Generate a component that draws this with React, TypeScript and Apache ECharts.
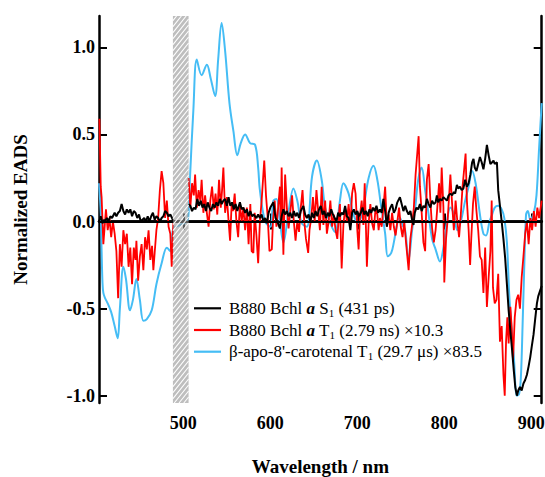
import React, { useEffect, useRef } from 'react';
import * as echarts from 'echarts';

const FONT = "'Liberation Serif', 'Times New Roman', Times, serif";

// Wavelength (nm) / normalized EADS pairs
const s1Points: [number, number | null][] = [
  [403,0.0],[405,0.03],[407,-0.01],[409,0.01],[410,0.0],[412,0.02],[414,0.0],[416,0.03],[418,0.02],[421,0.05],[423,0.03],[425,0.05],[427,0.06],[429,0.1],[431,0.06],[433,0.04],[435,0.07],[437,0.05],[439,0.07],[441,0.03],[443,0.06],[445,0.05],[447,0.02],[449,0.04],[451,0.0],[453,0.01],[455,0.02],[457,0.0],[459,0.03],[461,0.0],[463,0.03],[465,0.05],[467,0.01],[469,0.03],[471,0.02],[473,0.0],[475,0.02],[477,0.03],[479,0.06],[481,0.05],[483,0.03],[485,0.04],[487,0.02],[488.5,0.0],[497,null],
  [506,0.1],[508,0.09],[510,0.06],[512,0.08],[514,0.07],[516,0.13],[518,0.09],[520,0.12],[522,0.08],[524,0.1],[526,0.06],[528,0.11],[530,0.08],[532,0.06],[534,0.1],[536,0.08],[538,0.11],[540,0.09],[542,0.13],[544,0.1],[546,0.12],[548,0.13],[550,0.09],[552,0.14],[554,0.09],[556,0.11],[558,0.07],[560,0.1],[562,0.06],[565,0.11],[567,0.07],[569,0.08],[571,0.05],[573,0.07],[575,0.03],[577,0.06],[579,0.03],[581,0.04],[584,0.02],[586,0.04],[588,0.02],[590,0.04],[592,0.0],[594,0.02],[596,-0.01],[598,0.05],[600,0.08],[603.5,0.11],[606,0.02],[608,0.0],[611,-0.04],[613,0.03],[615,0.07],[617,0.04],[619,0.06],[621,0.03],[623,0.05],[625,0.02],[627,0.06],[629,0.03],[631,0.05],[633,0.02],[635,0.06],[638,0.09],[640,0.04],[642,0.02],[644,0.04],[646,0.0],[648,0.05],[650,0.02],[652,0.06],[654,0.03],[656,0.07],[658,0.09],[660,0.04],[662,0.06],[664,0.02],[666,0.05],[668,0.03],[670,0.07],[672,0.04],[674,0.02],[676,0.0],[678,0.05],[680,0.03],[682,0.05],[684,0.04],[686,0.09],[688,0.03],[690,0.02],[692,-0.05],[694,0.05],[696,0.07],[698,0.04],[700,0.06],[702,0.03],[704,0.05],[706,0.08],[708,0.04],[710,0.06],[712,0.03],[714,0.07],[716,0.05],[718,0.08],[720,0.06],[722,0.09],[724,0.05],[726,0.07],[728,0.05],[730,0.13],[732,0.06],[734,-0.03],[736,0.05],[738,0.08],[740,0.1],[742,0.05],[744,0.07],[746,0.11],[749,0.14],[751,0.1],[753,0.06],[755,0.09],[757,0.06],[759,0.04],[761,0.06],[763,0.01],[764.6,-0.02],[766,0.05],[768,0.08],[770,0.07],[772,0.1],[774,0.06],[776,0.09],[778,0.08],[780,0.13],[782,0.1],[784,0.08],[786,0.12],[788,0.1],[790,0.11],[791.5,0.15],[793,0.11],[795,0.13],[797,0.12],[799,0.14],[801,0.13],[803,0.12],[805,0.15],[807,0.16],[809,0.15],[811,0.17],[812.5,0.16],[814.5,0.21],[816,0.19],[818,0.2],[820,0.18],[822,0.19],[824,0.24],[826,0.2],[828,0.22],[830,0.27],[832,0.34],[833.6,0.36],[835,0.31],[837,0.29],[839,0.33],[841,0.37],[843,0.34],[845,0.3],[847,0.36],[849,0.44],[851,0.38],[853,0.33],[855,0.34],[856.6,0.35],[858,0.33],[860.5,0.34],[862,0.18],[864,0.09],[866,0.0],[868,-0.1],[870,-0.21],[872,-0.36],[874,-0.51],[876,-0.63],[878,-0.74],[880,-0.86],[881.6,-0.95],[883.5,-1.0],[885,-0.97],[887,-0.95],[889,-0.97],[891,-0.93],[893,-0.91],[895,-0.88],[897,-0.83],[898.8,-0.78],[900.5,-0.72],[902.6,-0.65],[904.5,-0.56],[906.5,-0.47],[908,-0.43],[910,-0.4],[912,-0.37]
];

const t1Points: [number, number | null][] = [
  [403.5,0.59],[405,0.2],[406,0.14],[408,-0.13],[411,0.07],[413,-0.05],[415,0.02],[417,-0.09],[419,0.0],[421,-0.07],[423,-0.17],[425,-0.44],[427,-0.13],[429,-0.26],[431,-0.05],[433,-0.13],[435,-0.07],[437,-0.26],[439,-0.15],[441,-0.36],[443,-0.15],[445,-0.22],[446,-0.11],[448,-0.34],[450,-0.2],[452,-0.13],[454,-0.28],[456,-0.09],[458,-0.16],[460,-0.05],[462,-0.22],[464,-0.14],[465.5,-0.28],[467,-0.18],[469,-0.05],[471,0.02],[473,0.18],[475,0.29],[477,0.22],[479,0.02],[481,0.12],[483,-0.03],[485,-0.07],[486.6,-0.26],[488.5,0.0],[497,null],
  [506,0.25],[508,0.08],[510,0.22],[512,0.15],[513.5,0.27],[515.5,0.08],[517.5,0.18],[519.5,0.12],[521,0.24],[523,0.05],[525,0.15],[527,0.05],[529,-0.03],[531,0.12],[533,0.2],[535,0.07],[537,0.16],[539,0.04],[541,0.24],[543,0.08],[544.5,0.18],[546,0.31],[548,0.05],[550,0.14],[552,0.0],[553.7,-0.11],[555.5,0.1],[557,0.06],[559,0.16],[561,0.0],[563,-0.09],[565,0.1],[567,0.0],[569,0.08],[571,-0.05],[573,0.08],[575,-0.13],[577,0.1],[578.5,-0.17],[580.5,-0.18],[582,0.05],[584,-0.08],[586,-0.24],[588,0.0],[590,0.12],[593,0.35],[595,0.15],[597,0.02],[599,-0.17],[601.7,-0.16],[603,0.0],[605,0.12],[607,-0.03],[609,0.08],[611,0.2],[612,0.0],[613,0.31],[615,-0.19],[617,0.27],[619,0.08],[621,-0.04],[623,0.06],[625,0.15],[627,0.0],[629,-0.11],[631,0.0],[633,-0.06],[635,0.08],[637,0.18],[639,0.0],[641,-0.1],[643.5,-0.18],[645,-0.05],[647,0.02],[649,0.14],[651,0.0],[653,0.18],[655,0.06],[657,-0.05],[659,0.2],[661,-0.02],[663,0.12],[665,-0.07],[667,0.0],[669,0.12],[671,-0.03],[673,0.04],[675,-0.05],[677,-0.1],[679,0.05],[680,0.1],[682,-0.27],[684,-0.02],[686,0.08],[688,0.0],[690,0.1],[692,-0.02],[694,0.16],[696,0.22],[698,0.16],[700,-0.05],[701.5,-0.16],[703,0.03],[705,0.12],[707,-0.02],[708.5,0.22],[710,-0.05],[711,-0.26],[713,-0.01],[715,0.1],[717,-0.01],[719,-0.05],[721,0.08],[723,0.04],[724.5,-0.05],[726,0.02],[728,-0.03],[730,0.08],[732,0.2],[734,-0.03],[736,0.04],[738,-0.05],[740,0.05],[742,-0.03],[744,-0.08],[746,0.0],[748,0.08],[750,-0.03],[752,-0.09],[754,0.0],[756,-0.12],[759,-0.28],[761,-0.1],[763,-0.02],[765,0.08],[767,0.27],[770.5,0.49],[772,0.2],[774,0.05],[776,-0.12],[778,-0.17],[780,0.24],[782,0.33],[784,0.12],[786,-0.04],[788,-0.12],[790,-0.05],[792,0.08],[794,0.22],[795.5,0.05],[797,0.31],[799,0.08],[800,-0.35],[802,-0.1],[804,0.02],[807,0.27],[809,0.1],[811,-0.05],[813,0.12],[815,0.0],[817,-0.09],[819,0.04],[821,0.2],[824.5,0.39],[826,0.12],[828,-0.05],[829.7,-0.25],[831,-0.1],[833,0.1],[835,0.2],[837,0.06],[839,-0.05],[841,-0.2],[843,-0.22],[845,-0.41],[847,-0.15],[849,-0.49],[851,-0.32],[853,-0.17],[854.5,0.12],[856,-0.38],[858,-0.47],[860,-0.45],[862,-0.3],[864,-0.69],[866,-0.6],[868,-0.88],[869.5,-1.0],[871,-0.69],[872.5,-0.55],[874,-0.7],[876,-0.49],[877.5,-0.61],[879,-0.8],[881,-0.55],[883,-0.45],[885,-0.42],[887,-0.5],[889,-0.32],[891,-0.2],[893,-0.07],[895,0.0],[897,-0.13],[899,0.02],[901,-0.05],[903,0.06],[905,-0.03],[907,0.08],[909,0.02],[912,0.12]
];

const carPoints: [number, number][] = [
  [403,0.22],[405,0.05],[406,-0.17],[407,-0.35],[408,-0.41],[410,-0.44],[413,-0.47],[417,-0.52],[421,-0.6],[424.5,-0.67],[427,-0.5],[431,-0.26],[434,-0.33],[438.7,-0.51],[442,-0.45],[446,-0.33],[450,-0.45],[454,-0.57],[458,-0.56],[463.6,-0.51],[469,-0.36],[475,-0.24],[481,-0.15],[485,-0.17],[488.5,-0.04],[496,-0.02],[504,0.0],[506,0.05],[507.7,0.26],[511.5,0.64],[515.4,0.93],[521,0.84],[527,0.9],[531.5,0.82],[536.5,0.72],[540,0.93],[544,1.14],[548,0.98],[553,0.68],[557.5,0.52],[562,0.38],[566,0.45],[571,0.5],[576.7,0.45],[582.5,0.44],[586,0.31],[588,0.18],[594,0.0],[600,-0.03],[603.5,0.12],[607,0.13],[611,0.0],[615,-0.12],[621,0.06],[626.5,0.19],[631,0.12],[636,-0.01],[642,-0.03],[648,0.26],[653.5,0.35],[659,0.24],[663,0.08],[669,-0.01],[674.5,-0.06],[680,0.12],[684,0.22],[690,0.16],[695.6,0.04],[701,-0.01],[707,0.08],[713,0.25],[718.6,0.32],[723,0.24],[727,0.1],[732,-0.07],[735,-0.2],[739,-0.18],[742,-0.12],[746,-0.01],[749,0.02],[752,-0.02],[755,-0.05],[759,-0.22],[763,-0.05],[766.6,0.08],[770,0.24],[774,0.31],[778,0.18],[782,0.04],[786,-0.1],[790,-0.16],[795,-0.23],[799,-0.15],[803,0.0],[807,0.08],[811,0.04],[815,-0.05],[819,0.0],[824,0.12],[828,0.2],[832,0.29],[836,0.22],[841,0.04],[845,-0.07],[848,-0.08],[852,0.0],[855,0.04],[858,0.08],[862,0.09],[866,0.07],[869,0.02],[872,-0.12],[875,-0.45],[880,-0.78],[883.5,-1.0],[886,-0.99],[888,-0.9],[890,-0.6],[892,-0.25],[894,0.04],[896,0.06],[899,0.01],[903,0.05],[906,0.15],[909,0.42],[912,0.68]
];

const xTicks = [500, 600, 700, 800, 900];
const yTicks = [-1, -0.5, 0, 0.5, 1];
const xRange = [403, 912];
const yRange = [-1.042, 1.18];
const bandRange = [488, 506];

const seriesNames = ['S1', 'T1', 'CAR'];
const seriesColors: Record<string, string> = { S1: '#000000', T1: '#ff0000', CAR: '#45bdf5' };
const legendLabels: Record<string, string> = {
  S1: 'B880 Bchl {i|a} S{s|1} (431 ps)',
  T1: 'B880 Bchl {i|a} T{s|1} (2.79 ns) ×10.3',
  CAR: "β-apo-8'-carotenal T{s|1} (29.7 μs) ×83.5",
};

const toData = (pts: [number, number | null][]) =>
  pts.map(([x, y]) => [x, y === null ? '-' : y]);

export default function App() {
  const ref = useRef<HTMLDivElement>(null);
  useEffect(() => {
    const chart = echarts.init(ref.current as HTMLDivElement, null, { renderer: 'svg' });
    const axisLine = { show: true, lineStyle: { color: '#000', width: 2.5 } };
    const tickX = { show: true, inside: true, length: 8, lineStyle: { color: '#000', width: 2 }, customValues: xTicks };
    const tickY = { show: true, inside: true, length: 8, lineStyle: { color: '#000', width: 2 }, customValues: yTicks };
    const labelStyle = { fontFamily: FONT, fontWeight: 'bold', fontSize: 18, color: '#000' };
    const legendText = {
      fontFamily: FONT,
      fontSize: 17,
      color: '#000',
      lineHeight: 20,
      padding: [0, 0, 0, 3],
      rich: {
        i: { fontFamily: FONT, fontSize: 17, fontStyle: 'italic', fontWeight: 'bold', color: '#000', lineHeight: 20 },
        s: { fontFamily: FONT, fontSize: 11, color: '#000', lineHeight: 12, verticalAlign: 'bottom' },
      },
    };
    const legendRowsCenter = [308.3, 330, 351.7];
    const legends = seriesNames.map((n, i) => ({
      data: [{ name: n, icon: 'rect', itemStyle: { color: seriesColors[n] } }],
      orient: 'vertical',
      left: 194,
      top: legendRowsCenter[i] - 10,
      padding: 0,
      itemWidth: 27,
      itemHeight: 2.2,
      selectedMode: false,
      formatter: (name: string) => legendLabels[name],
      textStyle: legendText,
    }));

    chart.setOption({
      animation: false,
      backgroundColor: '#fff',
      grid: { left: 99, right: 3.3, top: 16, bottom: 74, containLabel: false, outerBoundsMode: 'none' },
      legend: legends,
      xAxis: [
        {
          type: 'value', position: 'bottom', min: xRange[0], max: xRange[1],
          axisLine, axisTick: tickX, splitLine: { show: false },
          axisLabel: { ...labelStyle, margin: 11, customValues: xTicks },
          name: 'Wavelength / nm', nameLocation: 'middle', nameGap: 54,
          nameTextStyle: { fontFamily: FONT, fontWeight: 'bold', fontSize: 19, color: '#000' },
        },
        {
          type: 'value', position: 'top', min: xRange[0], max: xRange[1],
          axisLine, axisTick: tickX, splitLine: { show: false },
          axisLabel: { show: false },
        },
      ],
      yAxis: [
        {
          type: 'value', position: 'left', min: yRange[0], max: yRange[1],
          axisLine, axisTick: tickY, splitLine: { show: false },
          axisLabel: { ...labelStyle, margin: 4, customValues: yTicks, formatter: (v: number) => v.toFixed(1) },
          name: 'Normalized EADS', nameLocation: 'middle', nameGap: 69, nameRotate: 90,
          nameTextStyle: { fontFamily: FONT, fontWeight: 'bold', fontSize: 19, color: '#000' },
        },
        {
          type: 'value', position: 'right', min: yRange[0], max: yRange[1],
          axisLine, axisTick: tickY, splitLine: { show: false },
          axisLabel: { show: false },
        },
      ],
      series: [
        {
          name: 'CAR', type: 'line', data: toData(carPoints), showSymbol: false, symbol: 'none',
          smooth: 0.35, lineStyle: { color: seriesColors.CAR, width: 2 }, itemStyle: { color: seriesColors.CAR }, z: 2,
        },
        {
          name: 'T1', type: 'line', data: toData(t1Points), showSymbol: false, symbol: 'none',
          lineStyle: { color: seriesColors.T1, width: 1.8 }, itemStyle: { color: seriesColors.T1 }, z: 3,
        },
        {
          name: 'S1', type: 'line', data: toData(s1Points), showSymbol: false, symbol: 'none',
          lineStyle: { color: seriesColors.S1, width: 2 }, itemStyle: { color: seriesColors.S1 }, z: 4,
          markLine: {
            silent: true, symbol: ['none', 'none'], label: { show: false },
            lineStyle: { color: '#000', width: 2, type: 'solid' },
            data: [{ yAxis: 0 }],
          },
        },
        {
          name: 'band', type: 'custom', coordinateSystem: 'cartesian2d', z: 6, silent: true,
          data: [bandRange], encode: { x: [0, 1] },
          renderItem: (params: any, api: any) => {
            const xa = api.coord([api.value(0), 0])[0];
            const xb = api.coord([api.value(1), 0])[0];
            const cs = params.coordSys;
            const top = cs.y;
            const bottom = cs.y + cs.height;
            const w = xb - xa;
            const children: any[] = [
              { type: 'rect', shape: { x: xa, y: top, width: w, height: bottom - top }, style: { fill: 'rgba(150,150,150,0.62)' } },
            ];
            const slope = 1.25;
            const sp = 6;
            for (let c = bottom + slope * w; c > top; c -= sp) {
              let x1 = xa, y1 = c, x2 = xb, y2 = c - slope * w;
              if (y1 > bottom) { x1 = xa + (y1 - bottom) / slope; y1 = bottom; }
              if (y2 < top) { x2 = xa + (c - top) / slope; y2 = top; }
              if (x2 > x1) {
                children.push({ type: 'line', shape: { x1, y1, x2, y2 }, style: { stroke: '#ffffff', lineWidth: 1.1 } });
              }
            }
            return { type: 'group', children };
          },
        },
      ],
    });
    return () => chart.dispose();
  }, []);
  return <div ref={ref} style={{ position: 'absolute', left: 0, top: 0, width: 545, height: 477 }} />;
}
